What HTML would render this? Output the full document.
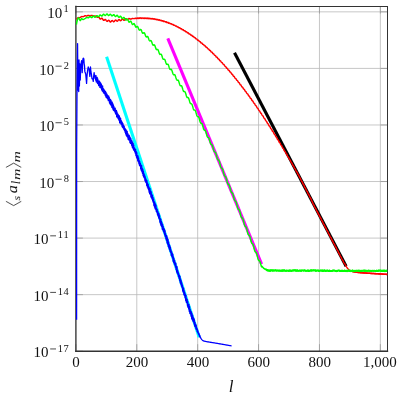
<!DOCTYPE html>
<html><head><meta charset="utf-8"><title>plot</title>
<style>html,body{margin:0;padding:0;background:#fff}svg{display:block}</style></head>
<body>
<svg width="398" height="398" viewBox="0 0 398 398">
<rect width="398" height="398" fill="#fff"/>
<g stroke="#b9b9b9" stroke-width="0.8" fill="none">
<line x1="136.79" y1="6.50" x2="136.79" y2="351.20"/>
<line x1="197.68" y1="6.50" x2="197.68" y2="351.20"/>
<line x1="258.57" y1="6.50" x2="258.57" y2="351.20"/>
<line x1="319.46" y1="6.50" x2="319.46" y2="351.20"/>
<line x1="380.35" y1="6.50" x2="380.35" y2="351.20"/>
<line x1="75.90" y1="11.85" x2="387.50" y2="11.85"/>
<line x1="75.90" y1="68.41" x2="387.50" y2="68.41"/>
<line x1="75.90" y1="124.97" x2="387.50" y2="124.97"/>
<line x1="75.90" y1="181.53" x2="387.50" y2="181.53"/>
<line x1="75.90" y1="238.09" x2="387.50" y2="238.09"/>
<line x1="75.90" y1="294.65" x2="387.50" y2="294.65"/>
</g>
<g stroke="#8c8c8c" stroke-width="0.65" fill="none">
<line x1="75.90" y1="351.20" x2="75.90" y2="344.20"/>
<line x1="75.90" y1="6.50" x2="75.90" y2="13.50"/>
<line x1="136.79" y1="351.20" x2="136.79" y2="344.20"/>
<line x1="136.79" y1="6.50" x2="136.79" y2="13.50"/>
<line x1="197.68" y1="351.20" x2="197.68" y2="344.20"/>
<line x1="197.68" y1="6.50" x2="197.68" y2="13.50"/>
<line x1="258.57" y1="351.20" x2="258.57" y2="344.20"/>
<line x1="258.57" y1="6.50" x2="258.57" y2="13.50"/>
<line x1="319.46" y1="351.20" x2="319.46" y2="344.20"/>
<line x1="319.46" y1="6.50" x2="319.46" y2="13.50"/>
<line x1="380.35" y1="351.20" x2="380.35" y2="344.20"/>
<line x1="380.35" y1="6.50" x2="380.35" y2="13.50"/>
<line x1="75.90" y1="11.85" x2="82.90" y2="11.85"/>
<line x1="387.50" y1="11.85" x2="380.50" y2="11.85"/>
<line x1="75.90" y1="68.41" x2="82.90" y2="68.41"/>
<line x1="387.50" y1="68.41" x2="380.50" y2="68.41"/>
<line x1="75.90" y1="124.97" x2="82.90" y2="124.97"/>
<line x1="387.50" y1="124.97" x2="380.50" y2="124.97"/>
<line x1="75.90" y1="181.53" x2="82.90" y2="181.53"/>
<line x1="387.50" y1="181.53" x2="380.50" y2="181.53"/>
<line x1="75.90" y1="238.09" x2="82.90" y2="238.09"/>
<line x1="387.50" y1="238.09" x2="380.50" y2="238.09"/>
<line x1="75.90" y1="294.65" x2="82.90" y2="294.65"/>
<line x1="387.50" y1="294.65" x2="380.50" y2="294.65"/>
<line x1="75.90" y1="351.20" x2="82.90" y2="351.20"/>
<line x1="387.50" y1="351.20" x2="380.50" y2="351.20"/>
</g>
<g stroke="#333" fill="none" stroke-linecap="square">
<line x1="75.90" y1="6.50" x2="387.50" y2="6.50" stroke-width="1"/>
<line x1="387.50" y1="6.50" x2="387.50" y2="351.20" stroke-width="1"/>
<line x1="75.90" y1="6.50" x2="75.90" y2="351.20" stroke-width="1.35"/>
<line x1="75.90" y1="351.20" x2="387.50" y2="351.20" stroke-width="1.35"/>
</g>
<clipPath id="c"><rect x="75.90" y="6.50" width="311.60" height="344.70"/></clipPath>
<g clip-path="url(#c)" fill="none" stroke-linejoin="round">
<line x1="106.60" y1="56.70" x2="199.20" y2="337.20" stroke="#00ffff" stroke-width="3.1"/>
<line x1="167.80" y1="38.40" x2="261.60" y2="264.20" stroke="#ff00ff" stroke-width="3.1"/>
<line x1="234.50" y1="52.70" x2="346.10" y2="266.30" stroke="#000" stroke-width="3.1"/>
<path d="M76.30,19.24 L76.70,18.98 L77.10,18.59 L77.50,18.16 L77.90,17.82 L78.30,17.64 L78.70,17.59 L79.10,17.63 L79.50,17.65 L79.90,17.57 L80.30,17.37 L80.70,17.09 L81.10,16.80 L81.50,16.61 L81.90,16.54 L82.30,16.59 L82.70,16.66 L83.10,16.66 L83.50,16.54 L83.90,16.31 L84.30,16.05 L84.70,15.83 L85.10,15.74 L85.50,15.78 L85.90,15.90 L86.30,16.00 L86.70,16.00 L87.10,15.88 L87.50,15.67 L87.90,15.47 L88.30,15.37 L88.70,15.41 L89.10,15.55 L89.50,15.73 L89.90,15.83 L90.30,15.82 L90.70,15.69 L91.10,15.51 L91.50,15.39 L91.90,15.40 L92.30,15.54 L92.70,15.75 L93.10,15.95 L93.50,16.06 L93.90,16.05 L94.30,15.97 L94.70,15.91 L95.10,15.96 L95.50,16.16 L95.90,16.47 L96.30,16.71 L96.70,16.98 L97.10,17.21 L97.50,17.30 L97.90,17.23 L98.30,17.13 L98.70,17.19 L99.10,17.53 L99.50,18.12 L99.90,18.75 L100.30,19.08 L100.70,18.99 L101.10,18.64 L101.50,18.28 L101.90,18.20 L102.30,18.50 L102.70,19.12 L103.10,19.81 L103.50,20.29 L103.90,20.39 L104.30,20.13 L104.70,19.73 L105.10,19.46 L105.50,19.54 L105.90,19.98 L106.30,20.62 L106.70,21.18 L107.10,21.43 L107.50,21.29 L107.90,20.87 L108.30,20.45 L108.70,20.29 L109.10,20.51 L109.50,21.03 L109.90,21.61 L110.30,21.98 L110.70,21.96 L111.10,21.57 L111.50,21.03 L111.90,20.61 L112.30,20.53 L112.70,20.82 L113.10,21.30 L113.50,21.70 L113.90,21.78 L114.30,21.48 L114.70,20.90 L115.10,20.33 L115.50,20.03 L115.90,20.12 L116.30,20.52 L116.70,21.00 L117.10,21.26 L117.50,21.15 L117.90,20.68 L118.30,20.08 L118.70,19.62 L119.10,19.50 L119.50,19.77 L119.90,20.25 L120.30,20.66 L120.70,20.76 L121.10,20.46 L121.50,19.90 L121.90,19.35 L122.30,19.05 L122.70,19.15 L123.10,19.55 L123.50,20.03 L123.90,20.31 L124.30,20.21 L124.70,19.75 L125.10,19.16 L125.50,18.74 L125.90,18.68 L126.30,18.94 L126.70,19.35 L127.10,19.66 L127.50,19.71 L127.90,19.46 L128.30,19.06 L128.70,18.70 L129.10,18.54 L129.50,18.61 L129.90,18.84 L130.30,19.06 L130.70,19.15 L131.10,19.07 L131.50,18.86 L131.90,18.65 L132.30,18.51 L132.70,18.49 L133.10,18.54 L133.50,18.60 L133.90,18.61 L134.30,18.56 L134.70,18.49 L135.10,18.49 L135.50,18.11 L135.90,18.26 L136.30,18.60 L136.70,18.46 L137.10,18.03 L137.50,18.04 L137.90,18.42 L138.30,18.43 L138.70,18.01 L139.10,17.88 L139.50,18.23 L139.90,18.40 L140.30,18.05 L140.70,17.82 L141.10,18.12 L141.50,18.43 L141.90,18.19 L142.30,17.86 L142.70,18.05 L143.10,18.44 L143.50,18.35 L143.90,17.97 L144.30,18.02 L144.70,18.44 L145.10,18.50 L145.50,18.12 L145.90,18.03 L146.30,18.43 L146.70,18.63 L147.10,18.31 L147.50,18.08 L147.90,18.40 L148.30,18.72 L148.70,18.51 L149.10,18.19 L149.50,18.40 L149.90,18.81 L150.30,18.74 L150.70,18.38 L151.10,18.46 L151.50,18.90 L151.90,18.99 L152.30,18.64 L152.70,18.58 L153.10,19.01 L153.50,19.24 L153.90,18.96 L154.30,18.78 L154.70,19.14 L155.10,19.51 L155.50,19.33 L155.90,19.06 L156.30,19.31 L156.70,19.77 L157.10,19.73 L157.50,19.42 L157.90,19.54 L158.30,20.03 L158.70,20.16 L159.10,19.85 L159.50,19.83 L159.90,20.31 L160.30,20.59 L160.70,20.34 L161.10,20.20 L161.50,20.61 L161.90,21.02 L162.30,20.88 L162.70,20.65 L163.10,20.95 L163.50,21.45 L163.90,21.46 L164.30,21.18 L164.70,21.34 L165.10,21.88 L165.50,22.05 L165.90,21.78 L166.30,21.81 L166.70,22.32 L167.10,22.64 L167.50,22.44 L167.90,22.34 L168.30,22.79 L168.70,23.24 L169.10,23.15 L169.50,22.96 L169.90,23.29 L170.30,23.83 L170.70,23.88 L171.10,23.65 L171.50,23.85 L171.90,24.43 L172.30,24.63 L172.70,24.41 L173.10,24.48 L173.50,25.03 L173.90,25.39 L174.30,25.23 L174.70,25.17 L175.10,25.66 L175.50,26.15 L175.90,26.10 L176.30,25.95 L176.70,26.33 L177.10,26.90 L177.50,26.99 L177.90,26.80 L178.30,27.04 L178.70,27.66 L179.10,27.90 L179.50,27.72 L179.90,27.82 L180.30,28.42 L180.70,28.82 L181.10,28.70 L181.50,28.68 L181.90,29.20 L182.30,29.73 L182.70,29.72 L183.10,29.61 L183.50,30.02 L183.90,30.64 L184.30,30.77 L184.70,30.61 L185.10,30.90 L185.50,31.55 L185.90,31.83 L186.30,31.69 L186.70,31.83 L187.10,32.46 L187.50,32.90 L187.90,32.82 L188.30,32.84 L188.70,33.40 L189.10,33.96 L189.50,33.99 L189.90,33.92 L190.30,34.37 L190.70,35.02 L191.10,35.19 L191.50,35.07 L191.90,35.39 L192.30,36.08 L192.70,36.40 L193.10,36.29 L193.50,36.47 L193.90,37.14 L194.30,37.62 L194.70,37.57 L195.10,37.63 L195.50,38.23 L195.90,38.83 L196.30,38.89 L196.70,38.86 L197.10,39.35 L197.50,40.03 L197.90,40.24 L198.30,40.16 L198.70,40.51 L199.10,41.24 L199.50,41.60 L199.90,41.52 L200.30,41.74 L200.70,42.44 L201.10,42.95 L201.50,42.94 L201.90,43.03 L202.30,43.67 L202.70,44.31 L203.10,44.40 L203.50,44.40 L203.90,44.93 L204.30,45.65 L204.70,45.89 L205.10,45.85 L205.50,46.24 L205.90,47.00 L206.30,47.39 L206.70,47.35 L207.10,47.60 L207.50,48.34 L207.90,48.89 L208.30,48.91 L208.70,49.04 L209.10,49.71 L209.50,50.38 L209.90,50.51 L210.30,50.54 L210.70,51.10 L211.10,51.86 L211.50,52.13 L211.90,52.12 L212.30,52.54 L212.70,53.34 L213.10,53.77 L213.50,53.76 L213.90,54.05 L214.30,54.82 L214.70,55.40 L215.10,55.45 L215.50,55.61 L215.90,56.32 L216.30,57.02 L216.70,57.19 L217.10,57.25 L217.50,57.84 L217.90,58.64 L218.30,58.94 L218.70,58.96 L219.10,59.42 L219.50,60.24 L219.90,60.70 L220.30,60.73 L220.70,61.05 L221.10,61.85 L221.50,62.47 L221.90,62.55 L222.30,62.75 L222.70,63.48 L223.10,64.22 L223.50,64.41 L223.90,64.51 L224.30,65.14 L224.70,65.96 L225.10,66.30 L225.50,66.35 L225.90,66.84 L226.30,67.69 L226.70,68.19 L227.10,68.25 L227.50,68.59 L227.90,69.43 L228.30,70.07 L228.70,70.19 L229.10,70.41 L229.50,71.18 L229.90,71.95 L230.30,72.18 L230.70,72.31 L231.10,72.96 L231.50,73.81 L231.90,74.18 L232.30,74.26 L232.70,74.78 L233.10,75.67 L233.50,76.19 L233.90,76.28 L234.30,76.66 L234.70,77.53 L235.10,78.20 L235.50,78.35 L235.90,78.60 L236.30,79.40 L236.70,80.19 L237.10,80.45 L237.50,80.61 L237.90,81.29 L238.30,82.18 L238.70,82.57 L239.10,82.68 L239.50,83.23 L239.90,84.15 L240.30,84.70 L240.70,84.82 L241.10,85.23 L241.50,86.12 L241.90,86.82 L242.30,87.00 L242.70,87.28 L243.10,88.11 L243.50,88.93 L243.90,89.22 L244.30,89.41 L244.70,90.12 L245.10,91.03 L245.50,91.45 L245.90,91.59 L246.30,92.17 L246.70,93.12 L247.10,93.69 L247.50,93.84 L247.90,94.28 L248.30,95.20 L248.70,95.93 L249.10,96.13 L249.50,96.44 L249.90,97.29 L250.30,98.15 L250.70,98.46 L251.10,98.68 L251.50,99.42 L251.90,100.35 L252.30,100.81 L252.70,100.97 L253.10,101.58 L253.50,102.55 L253.90,103.15 L254.30,103.33 L254.70,103.79 L255.10,104.74 L255.50,105.49 L255.90,105.73 L256.30,106.06 L256.70,106.94 L257.10,107.82 L257.50,108.16 L257.90,108.40 L258.30,109.16 L258.70,110.13 L259.10,110.61 L259.50,110.80 L259.90,111.43 L260.30,112.42 L260.70,113.06 L261.10,113.26 L261.50,113.74 L261.90,114.72 L262.30,115.50 L262.70,115.76 L263.10,116.12 L263.50,117.02 L263.90,117.93 L264.30,118.29 L264.70,118.55 L265.10,119.35 L265.50,120.33 L265.90,120.84 L266.30,121.05 L266.70,121.71 L267.10,122.73 L267.50,123.39 L267.90,123.61 L268.30,124.12 L268.70,125.12 L269.10,125.93 L269.50,126.21 L269.90,126.59 L270.30,127.52 L270.70,128.45 L271.10,128.84 L271.50,129.13 L271.90,129.94 L272.30,130.95 L272.70,131.48 L273.10,131.72 L273.50,132.40 L273.90,133.44 L274.30,134.12 L274.70,134.37 L275.10,134.90 L275.50,135.93 L275.90,136.75 L276.30,137.06 L276.70,137.47 L277.10,138.42 L277.50,139.37 L277.90,139.78 L278.30,140.09 L278.70,140.93 L279.10,141.96 L279.50,142.51 L279.90,142.77 L280.30,143.47 L280.70,144.54 L281.10,145.24 L281.50,145.51 L281.90,146.07 L282.30,147.11 L282.70,147.96 L283.10,148.29 L283.50,148.72 L283.90,149.69 L284.30,150.66 L284.70,151.10 L285.10,151.43 L285.50,152.29 L285.90,153.35 L286.30,153.92 L286.70,154.20 L287.10,154.92 L287.50,156.01 L287.90,156.73 L288.30,157.02 L288.70,157.60 L289.10,158.66 L289.50,159.52 L289.90,159.86 L290.30,160.30 L290.70,161.29 L291.10,162.27 L291.50,162.72 L291.90,163.07 L292.30,163.94 L292.70,165.01 L293.10,165.60 L293.50,165.90 L293.90,166.64 L294.30,167.75 L294.70,168.49 L295.10,168.80 L295.50,169.41 L295.90,170.50 L296.30,171.40 L296.70,171.78 L297.10,172.26 L297.50,173.29 L297.90,174.32 L298.30,174.82 L298.70,175.21 L299.10,176.13 L299.50,177.26 L299.90,177.89 L300.30,178.25 L300.70,179.04 L301.10,180.20 L301.50,181.00 L301.90,181.36 L302.30,182.01 L302.70,183.15 L303.10,184.10 L303.50,184.53 L303.90,185.05 L304.30,186.12 L304.70,187.20 L305.10,187.73 L305.50,188.16 L305.90,189.12 L306.30,190.27 L306.70,190.94 L307.10,191.32 L307.50,192.13 L307.90,193.31 L308.30,194.13 L308.70,194.51 L309.10,195.17 L309.50,196.32 L309.90,197.28 L310.30,197.71 L310.70,198.24 L311.10,199.31 L311.50,200.37 L311.90,200.90 L312.30,201.89 L312.70,202.84 L313.10,203.98 L313.50,204.64 L313.90,205.00 L314.30,205.81 L314.70,206.98 L315.10,207.78 L315.50,208.15 L315.90,208.80 L316.30,209.95 L316.70,210.89 L317.10,211.31 L317.50,211.84 L317.90,212.90 L318.30,213.96 L318.70,214.49 L319.10,214.91 L319.50,215.85 L319.90,217.00 L320.30,217.65 L320.70,218.02 L321.10,218.82 L321.50,219.99 L321.90,220.80 L322.30,221.16 L322.70,221.82 L323.10,222.96 L323.50,223.91 L323.90,224.33 L324.30,224.85 L324.70,225.92 L325.10,226.98 L325.50,227.50 L325.90,227.92 L326.30,228.87 L326.70,230.01 L327.10,230.67 L327.50,231.03 L327.90,231.84 L328.30,233.01 L328.70,233.81 L329.10,234.18 L329.50,234.83 L329.90,235.98 L330.30,236.92 L330.70,237.34 L331.10,237.87 L331.50,238.93 L331.90,239.99 L332.30,240.52 L332.70,240.94 L333.10,241.88 L333.50,243.03 L333.90,243.68 L334.30,244.05 L334.70,244.85 L335.10,246.02 L335.50,246.83 L335.90,247.19 L336.30,247.85 L336.70,248.99 L337.10,249.94 L337.50,250.36 L337.90,250.88 L338.30,251.95 L338.70,253.01 L339.10,253.53 L339.50,253.95 L339.90,254.90 L340.30,256.04 L340.70,256.70 L341.10,257.06 L341.50,257.87 L341.90,259.04 L342.30,259.84 L342.70,260.21 L343.10,260.86 L343.50,262.01 L343.90,262.95 L344.30,263.37 L344.70,263.55 L345.10,264.55 L345.50,265.23 L345.90,265.88 L346.30,266.51 L346.70,267.11 L347.10,267.68 L347.50,268.20 L347.90,268.67 L348.30,269.09 L348.70,269.46 L349.10,269.78 L349.50,270.07 L349.90,270.34 L350.30,270.58 L350.70,270.79 L351.10,270.97 L351.50,271.14 L351.90,271.28 L352.30,271.41 L352.70,271.52 L353.10,271.62 L353.50,271.72 L353.90,271.80 L354.30,271.88 L354.70,271.96 L355.10,272.02 L355.50,272.08 L355.90,272.14 L356.30,272.19 L356.70,272.25 L357.10,272.29 L357.50,272.34 L357.90,272.39 L358.30,272.43 L358.70,272.48 L359.10,272.52 L359.50,272.56 L359.90,272.60 L360.30,272.64 L360.70,272.67 L361.10,272.71 L361.50,272.74 L361.90,272.78 L362.30,272.81 L362.70,272.84 L363.10,272.87 L363.50,272.90 L363.90,272.92 L364.30,272.95 L364.70,272.98 L365.10,273.01 L365.50,273.03 L365.90,273.06 L366.30,273.09 L366.70,273.11 L367.10,273.14 L367.50,273.17 L367.90,273.19 L368.30,273.22 L368.70,273.24 L369.10,273.27 L369.50,273.30 L369.90,273.32 L370.30,273.35 L370.70,273.37 L371.10,273.40 L371.50,273.42 L371.90,273.45 L372.30,273.47 L372.70,273.50 L373.10,273.52 L373.50,273.55 L373.90,273.57 L374.30,273.60 L374.70,273.62 L375.10,273.65 L375.50,273.67 L375.90,273.69 L376.30,273.72 L376.70,273.74 L377.10,273.77 L377.50,273.79 L377.90,273.82 L378.30,273.84 L378.70,273.86 L379.10,273.89 L379.50,273.91 L379.90,273.94 L380.30,273.96 L380.70,273.98 L381.10,274.01 L381.50,274.03 L381.90,274.06 L382.30,274.08 L382.70,274.11 L383.10,274.13 L383.50,274.15 L383.90,274.18 L384.30,274.20 L384.70,274.23 L385.10,274.25 L385.50,274.28 L385.90,274.30 L386.30,274.33 L386.70,274.35 L387.10,274.38 L387.50,274.40" stroke="#ff0000" stroke-width="1.45"/>
<path d="M350.30,270.58 L350.70,270.79 L351.10,270.97 L351.50,271.14 L351.90,271.28 L352.30,271.41 L352.70,271.52 L353.10,271.62 L353.50,271.72 L353.90,271.80 L354.30,271.88 L354.70,271.96 L355.10,272.02 L355.50,272.08 L355.90,272.14 L356.30,272.19 L356.70,272.25 L357.10,272.29 L357.50,272.34 L357.90,272.39 L358.30,272.43 L358.70,272.48 L359.10,272.52 L359.50,272.56 L359.90,272.60 L360.30,272.64 L360.70,272.67 L361.10,272.71 L361.50,272.74 L361.90,272.78 L362.30,272.81 L362.70,272.84 L363.10,272.87 L363.50,272.90 L363.90,272.92 L364.30,272.95 L364.70,272.98 L365.10,273.01 L365.50,273.03 L365.90,273.06 L366.30,273.09 L366.70,273.11 L367.10,273.14 L367.50,273.17 L367.90,273.19 L368.30,273.22 L368.70,273.24 L369.10,273.27 L369.50,273.30 L369.90,273.32 L370.30,273.35 L370.70,273.37 L371.10,273.40 L371.50,273.42 L371.90,273.45 L372.30,273.47 L372.70,273.50 L373.10,273.52 L373.50,273.55 L373.90,273.57 L374.30,273.60 L374.70,273.62 L375.10,273.65 L375.50,273.67 L375.90,273.69 L376.30,273.72 L376.70,273.74 L377.10,273.77 L377.50,273.79 L377.90,273.82 L378.30,273.84 L378.70,273.86 L379.10,273.89 L379.50,273.91 L379.90,273.94 L380.30,273.96 L380.70,273.98 L381.10,274.01 L381.50,274.03 L381.90,274.06 L382.30,274.08 L382.70,274.11 L383.10,274.13 L383.50,274.15 L383.90,274.18 L384.30,274.20 L384.70,274.23 L385.10,274.25 L385.50,274.28 L385.90,274.30 L386.30,274.33 L386.70,274.35 L387.10,274.38 L387.50,274.40" stroke="#ff0000" stroke-width="1.6"/>
<path d="M76.40,24.60 L76.80,22.36 L77.20,20.50 L77.60,19.27 L78.00,18.30 L78.40,17.82 L78.80,18.03 L79.20,18.80 L79.60,19.74 L80.00,20.45 L80.40,20.52 L80.80,19.81 L81.20,18.95 L81.60,18.58 L82.00,18.79 L82.40,19.23 L82.80,19.56 L83.20,19.56 L83.60,19.42 L84.00,19.21 L84.40,18.98 L84.80,18.76 L85.20,18.51 L85.60,18.21 L86.00,17.90 L86.40,17.64 L86.80,17.50 L87.20,17.51 L87.60,17.63 L88.00,17.75 L88.40,17.75 L88.80,17.53 L89.20,17.14 L89.60,16.76 L90.00,16.56 L90.40,16.67 L90.80,17.02 L91.20,17.44 L91.60,17.65 L92.00,17.50 L92.40,17.00 L92.80,16.43 L93.20,16.07 L93.60,16.08 L94.00,16.45 L94.40,16.95 L94.80,17.32 L95.20,17.33 L95.60,16.96 L96.00,16.38 L96.40,15.85 L96.80,15.62 L97.20,15.78 L97.60,16.20 L98.00,16.62 L98.40,16.78 L98.80,16.54 L99.20,16.00 L99.60,15.38 L100.00,14.97 L100.40,14.94 L100.80,15.27 L101.20,15.73 L101.60,16.06 L102.00,16.03 L102.40,15.63 L102.80,15.02 L103.20,14.48 L103.60,14.26 L104.00,14.44 L104.40,14.88 L104.80,15.33 L105.20,15.52 L105.60,15.34 L106.00,14.85 L106.40,14.30 L106.80,13.97 L107.20,14.02 L107.60,14.44 L108.00,15.01 L108.40,15.44 L108.80,15.53 L109.20,15.24 L109.60,14.75 L110.00,14.33 L110.40,14.22 L110.80,14.51 L111.20,15.06 L111.60,15.61 L112.00,15.90 L112.40,15.81 L112.80,15.41 L113.20,14.94 L113.60,14.69 L114.00,14.81 L114.40,15.30 L114.80,15.92 L115.20,16.42 L115.60,16.58 L116.00,16.19 L116.40,15.73 L116.80,15.35 L117.20,15.29 L117.60,15.64 L118.00,16.29 L118.40,16.95 L118.80,17.34 L119.20,17.30 L119.60,16.92 L120.00,16.44 L120.40,16.19 L120.80,16.38 L121.20,16.98 L121.60,17.76 L122.00,18.38 L122.40,18.61 L122.80,18.38 L123.20,17.90 L123.60,17.50 L124.00,17.48 L124.40,17.95 L124.80,18.77 L125.20,19.60 L125.60,20.11 L126.00,20.12 L126.40,19.73 L126.80,19.23 L127.20,19.01 L127.60,19.28 L128.00,20.03 L128.40,21.02 L128.80,21.82 L129.20,22.15 L129.60,21.97 L130.00,21.50 L130.40,21.12 L130.80,21.19 L131.20,21.81 L131.60,22.80 L132.00,23.79 L132.40,24.42 L132.80,24.51 L133.20,24.17 L133.60,23.73 L134.00,23.58 L134.40,23.96 L134.80,24.84 L135.20,25.92 L135.60,26.80 L136.00,27.20 L136.40,27.08 L136.80,26.67 L137.20,26.36 L137.60,26.50 L138.00,27.18 L138.40,28.24 L138.80,29.31 L139.20,30.00 L139.60,30.16 L140.00,29.88 L140.40,29.51 L140.80,29.42 L141.20,29.87 L141.60,30.81 L142.00,31.96 L142.40,32.91 L142.80,33.37 L143.20,33.31 L143.60,32.96 L144.00,32.72 L144.40,32.92 L144.80,33.67 L145.20,34.80 L145.60,35.95 L146.00,36.74 L146.40,36.98 L146.80,36.79 L147.20,36.50 L147.60,36.50 L148.00,37.04 L148.40,38.07 L148.80,39.30 L149.20,40.33 L149.60,40.88 L150.00,40.91 L150.40,40.65 L150.80,40.50 L151.20,40.78 L151.60,41.62 L152.00,42.83 L152.40,44.04 L152.80,44.89 L153.20,45.19 L153.60,45.06 L154.00,44.83 L154.40,44.90 L154.80,45.49 L155.20,46.58 L155.60,47.87 L156.00,48.97 L156.40,49.58 L156.80,49.66 L157.20,49.46 L157.60,49.37 L158.00,49.71 L158.40,50.60 L158.80,51.87 L159.20,53.14 L159.60,54.04 L160.00,54.40 L160.40,54.33 L160.80,54.16 L161.20,54.28 L161.60,54.93 L162.00,56.07 L162.40,57.42 L162.80,58.57 L163.20,59.23 L163.60,59.37 L164.00,59.22 L164.40,59.18 L164.80,59.58 L165.20,60.51 L165.60,61.79 L166.00,63.08 L166.40,64.00 L166.80,64.37 L167.20,64.31 L167.60,64.16 L168.00,64.29 L168.40,64.96 L168.80,66.12 L169.20,67.48 L169.60,68.64 L170.00,69.31 L170.40,69.47 L170.80,69.33 L171.20,69.30 L171.60,69.71 L172.00,70.66 L172.40,71.99 L172.80,73.32 L173.20,74.28 L173.60,74.71 L174.00,74.69 L174.40,74.58 L174.80,74.76 L175.20,75.47 L175.60,76.67 L176.00,78.07 L176.40,79.27 L176.80,79.99 L177.20,80.19 L177.60,80.09 L178.00,80.10 L178.40,80.56 L178.80,81.55 L179.20,82.92 L179.60,84.30 L180.00,85.30 L180.40,85.77 L180.80,85.79 L181.20,85.72 L181.60,85.94 L182.00,86.69 L182.40,87.94 L182.80,89.38 L183.20,90.63 L183.60,91.39 L184.00,91.62 L184.40,91.57 L184.80,91.63 L185.20,92.12 L185.60,93.16 L186.00,94.57 L186.40,95.99 L186.80,97.03 L187.20,97.54 L187.60,97.61 L188.00,97.58 L188.40,97.84 L188.80,98.63 L189.20,99.92 L189.60,101.40 L190.00,102.69 L190.40,103.49 L190.80,103.77 L191.20,103.76 L191.60,103.85 L192.00,104.39 L192.40,105.47 L192.80,106.92 L193.20,108.38 L193.60,109.47 L194.00,110.01 L194.40,110.12 L194.80,110.14 L195.20,110.44 L195.60,111.27 L196.00,112.60 L196.40,114.13 L196.80,115.46 L197.20,116.30 L197.60,116.62 L198.00,116.66 L198.40,116.79 L198.80,117.37 L199.20,118.49 L199.60,119.99 L200.00,121.49 L200.40,122.62 L200.80,123.21 L201.20,123.36 L201.60,123.42 L202.00,123.76 L202.40,124.64 L202.80,126.01 L203.20,127.58 L203.60,128.96 L204.00,129.84 L204.40,130.21 L204.80,130.28 L205.20,130.46 L205.60,131.08 L206.00,132.25 L206.40,133.79 L206.80,135.34 L207.20,136.51 L207.60,137.15 L208.00,137.35 L208.40,137.44 L208.80,137.83 L209.20,138.74 L209.60,140.14 L210.00,141.74 L210.40,143.15 L210.80,144.07 L211.20,144.46 L211.60,144.57 L212.00,144.79 L212.40,145.45 L212.80,146.65 L213.20,148.24 L213.60,149.83 L214.00,151.05 L214.40,151.74 L214.80,152.00 L215.20,152.16 L215.60,152.61 L216.00,153.60 L216.40,155.09 L216.80,156.77 L217.20,158.27 L217.60,159.28 L218.00,159.77 L218.40,159.97 L218.80,160.28 L219.20,161.02 L219.60,162.32 L220.00,163.99 L220.40,165.66 L220.80,166.97 L221.20,167.73 L221.60,168.05 L222.00,168.27 L222.40,168.79 L222.80,169.83 L223.20,171.36 L223.60,173.08 L224.00,174.61 L224.40,175.65 L224.80,176.16 L225.20,176.38 L225.60,176.70 L226.00,177.46 L226.40,178.76 L226.80,180.43 L227.20,182.10 L227.60,183.40 L228.00,184.15 L228.40,184.47 L228.80,184.69 L229.20,185.20 L229.60,186.23 L230.00,187.75 L230.40,189.47 L230.80,191.00 L231.20,192.03 L231.60,192.54 L232.00,192.75 L232.40,193.07 L232.80,193.83 L233.20,195.13 L233.60,196.80 L234.00,198.47 L234.40,199.77 L234.80,200.52 L235.20,200.86 L235.60,201.12 L236.00,201.67 L236.40,202.75 L236.80,204.32 L237.20,206.08 L237.60,207.65 L238.00,208.72 L238.40,209.27 L238.80,209.53 L239.20,209.89 L239.60,210.69 L240.00,212.04 L240.40,213.75 L240.80,215.46 L241.20,216.81 L241.60,217.61 L242.00,217.97 L242.40,218.23 L242.80,218.78 L243.20,219.85 L243.60,221.42 L244.00,223.19 L244.40,224.75 L244.80,225.83 L245.20,226.38 L245.60,226.64 L246.00,227.00 L246.40,227.80 L246.80,229.14 L247.20,230.86 L247.60,232.57 L248.00,233.92 L248.40,234.71 L248.80,235.08 L249.20,235.34 L249.60,235.88 L250.00,236.96 L250.40,238.53 L250.80,240.29 L251.20,241.86 L251.60,242.94 L252.00,243.48 L252.40,243.75 L252.80,244.11 L253.20,244.91 L253.60,246.25 L254.00,247.96 L254.40,249.68 L254.80,251.02 L255.20,251.82 L255.60,252.18 L256.00,252.44 L256.40,252.99 L256.80,254.07 L257.20,255.61 L257.60,257.36 L258.00,258.91 L258.40,259.98 L258.80,260.51 L259.20,260.74 L259.60,261.04 L260.00,261.76 L260.40,262.98 L260.80,264.50 L261.20,265.92 L261.60,266.88 L262.00,266.26 L262.40,266.65 L262.80,267.55 L263.20,267.54 L263.60,268.31 L264.00,268.53 L264.40,268.59 L264.80,269.22 L265.20,269.08 L265.60,269.61 L266.00,269.49 L266.40,269.64 L266.80,270.02 L267.20,270.44 L267.60,269.96 L268.00,270.11 L268.40,270.49 L268.80,270.79 L269.20,270.53 L269.60,270.41 L270.00,270.88 L270.40,270.14 L270.80,270.80 L271.20,270.35 L271.60,270.24 L272.00,270.23 L272.40,270.38 L272.80,270.80 L273.20,270.29 L273.60,270.62 L274.00,270.67 L274.40,270.46 L274.80,270.60 L275.20,270.22 L275.60,270.22 L276.00,270.34 L276.40,270.72 L276.80,270.52 L277.20,270.43 L277.60,270.65 L278.00,270.55 L278.40,270.43 L278.80,270.83 L279.20,270.75 L279.60,270.39 L280.00,270.66 L280.40,270.62 L280.80,270.90 L281.20,270.78 L281.60,270.43 L282.00,270.98 L282.40,270.30 L282.80,270.54 L283.20,270.81 L283.60,270.32 L284.00,270.59 L284.40,270.23 L284.80,270.74 L285.20,270.81 L285.60,270.66 L286.00,270.90 L286.40,270.45 L286.80,270.76 L287.20,270.67 L287.60,270.66 L288.00,270.56 L288.40,270.87 L288.80,270.95 L289.20,270.58 L289.60,270.73 L290.00,270.24 L290.40,270.76 L290.80,270.71 L291.20,270.99 L291.60,270.85 L292.00,270.42 L292.40,270.50 L292.80,270.73 L293.20,270.21 L293.60,270.56 L294.00,270.32 L294.40,270.28 L294.80,270.24 L295.20,270.80 L295.60,270.29 L296.00,270.39 L296.40,270.50 L296.80,270.89 L297.20,270.26 L297.60,270.55 L298.00,270.63 L298.40,270.90 L298.80,270.85 L299.20,270.89 L299.60,270.42 L300.00,270.53 L300.40,270.49 L300.80,270.91 L301.20,270.97 L301.60,270.33 L302.00,270.35 L302.40,270.40 L302.80,270.40 L303.20,270.60 L303.60,270.69 L304.00,270.43 L304.40,270.22 L304.80,270.56 L305.20,270.52 L305.60,270.68 L306.00,270.99 L306.40,270.78 L306.80,270.65 L307.20,270.73 L307.60,270.78 L308.00,270.28 L308.40,270.96 L308.80,270.87 L309.20,270.95 L309.60,270.89 L310.00,270.56 L310.40,270.57 L310.80,270.34 L311.20,270.77 L311.60,270.31 L312.00,270.32 L312.40,270.43 L312.80,270.40 L313.20,270.54 L313.60,270.31 L314.00,270.27 L314.40,270.40 L314.80,270.36 L315.20,270.57 L315.60,270.30 L316.00,270.99 L316.40,270.78 L316.80,270.41 L317.20,270.50 L317.60,270.57 L318.00,270.59 L318.40,270.40 L318.80,270.98 L319.20,271.10 L319.60,270.68 L320.00,270.70 L320.40,270.38 L320.80,270.40 L321.20,270.59 L321.60,270.53 L322.00,270.98 L322.40,270.45 L322.80,270.34 L323.20,271.09 L323.60,270.75 L324.00,270.45 L324.40,270.77 L324.80,270.36 L325.20,270.76 L325.60,271.12 L326.00,271.03 L326.40,270.90 L326.80,270.56 L327.20,270.64 L327.60,270.49 L328.00,270.97 L328.40,270.78 L328.80,270.98 L329.20,270.62 L329.60,270.54 L330.00,271.01 L330.40,271.15 L330.80,271.05 L331.20,271.01 L331.60,271.03 L332.00,270.96 L332.40,270.56 L332.80,270.79 L333.20,270.66 L333.60,270.40 L334.00,270.40 L334.40,270.61 L334.80,270.59 L335.20,270.94 L335.60,271.15 L336.00,270.75 L336.40,271.14 L336.80,271.18 L337.20,271.16 L337.60,270.69 L338.00,270.57 L338.40,270.58 L338.80,270.55 L339.20,270.56 L339.60,270.90 L340.00,271.12 L340.40,271.07 L340.80,270.79 L341.20,270.92 L341.60,271.04 L342.00,270.47 L342.40,270.93 L342.80,271.13 L343.20,271.03 L343.60,271.01 L344.00,270.79 L344.40,270.55 L344.80,271.04 L345.20,270.68 L345.60,271.05 L346.00,271.19 L346.40,270.73 L346.80,270.73 L347.20,271.17 L347.60,270.99 L348.00,270.55 L348.40,270.51 L348.80,270.53 L349.20,271.14 L349.60,271.06 L350.00,270.53 L350.40,271.08 L350.80,271.20 L351.20,270.94 L351.60,270.70 L352.00,270.85 L352.40,270.52 L352.80,270.43 L353.20,271.19 L353.60,270.94 L354.00,270.84 L354.40,271.16 L354.80,270.76 L355.20,271.11 L355.60,271.08 L356.00,270.58 L356.40,270.62 L356.80,270.65 L357.20,270.61 L357.60,270.89 L358.00,270.62 L358.40,270.75 L358.80,270.52 L359.20,271.14 L359.60,270.70 L360.00,270.78 L360.40,270.88 L360.80,271.14 L361.20,270.75 L361.60,271.15 L362.00,270.82 L362.40,270.84 L362.80,270.83 L363.20,270.43 L363.60,270.77 L364.00,270.56 L364.40,270.42 L364.80,271.05 L365.20,270.55 L365.60,270.79 L366.00,270.99 L366.40,270.86 L366.80,270.67 L367.20,270.83 L367.60,270.86 L368.00,271.04 L368.40,270.50 L368.80,270.86 L369.20,270.61 L369.60,270.63 L370.00,271.03 L370.40,270.82 L370.80,270.86 L371.20,271.02 L371.60,271.14 L372.00,270.76 L372.40,270.90 L372.80,270.81 L373.20,270.82 L373.60,270.96 L374.00,270.77 L374.40,270.83 L374.80,270.79 L375.20,271.16 L375.60,270.96 L376.00,271.11 L376.40,271.16 L376.80,270.61 L377.20,270.85 L377.60,271.16 L378.00,271.08 L378.40,270.51 L378.80,270.50 L379.20,270.76 L379.60,270.46 L380.00,270.59 L380.40,270.46 L380.80,270.94 L381.20,271.03 L381.60,271.12 L382.00,270.52 L382.40,270.97 L382.80,270.93 L383.20,270.52 L383.60,271.11 L384.00,271.17 L384.40,270.58 L384.80,271.16 L385.20,270.72 L385.60,270.79 L386.00,271.19 L386.40,271.07 L386.80,270.53 L387.20,270.75" stroke="#00ff00" stroke-width="1.45"/>
<path d="M265.60,269.61 L266.00,269.49 L266.40,269.64 L266.80,270.02 L267.20,270.44 L267.60,269.96 L268.00,270.11 L268.40,270.49 L268.80,270.79 L269.20,270.53 L269.60,270.41 L270.00,270.88 L270.40,270.14 L270.80,270.80 L271.20,270.35 L271.60,270.24 L272.00,270.23 L272.40,270.38 L272.80,270.80 L273.20,270.29 L273.60,270.62 L274.00,270.67 L274.40,270.46 L274.80,270.60 L275.20,270.22 L275.60,270.22 L276.00,270.34 L276.40,270.72 L276.80,270.52 L277.20,270.43 L277.60,270.65 L278.00,270.55 L278.40,270.43 L278.80,270.83 L279.20,270.75 L279.60,270.39 L280.00,270.66 L280.40,270.62 L280.80,270.90 L281.20,270.78 L281.60,270.43 L282.00,270.98 L282.40,270.30 L282.80,270.54 L283.20,270.81 L283.60,270.32 L284.00,270.59 L284.40,270.23 L284.80,270.74 L285.20,270.81 L285.60,270.66 L286.00,270.90 L286.40,270.45 L286.80,270.76 L287.20,270.67 L287.60,270.66 L288.00,270.56 L288.40,270.87 L288.80,270.95 L289.20,270.58 L289.60,270.73 L290.00,270.24 L290.40,270.76 L290.80,270.71 L291.20,270.99 L291.60,270.85 L292.00,270.42 L292.40,270.50 L292.80,270.73 L293.20,270.21 L293.60,270.56 L294.00,270.32 L294.40,270.28 L294.80,270.24 L295.20,270.80 L295.60,270.29 L296.00,270.39 L296.40,270.50 L296.80,270.89 L297.20,270.26 L297.60,270.55 L298.00,270.63 L298.40,270.90 L298.80,270.85 L299.20,270.89 L299.60,270.42 L300.00,270.53 L300.40,270.49 L300.80,270.91 L301.20,270.97 L301.60,270.33 L302.00,270.35 L302.40,270.40 L302.80,270.40 L303.20,270.60 L303.60,270.69 L304.00,270.43 L304.40,270.22 L304.80,270.56 L305.20,270.52 L305.60,270.68 L306.00,270.99 L306.40,270.78 L306.80,270.65 L307.20,270.73 L307.60,270.78 L308.00,270.28 L308.40,270.96 L308.80,270.87 L309.20,270.95 L309.60,270.89 L310.00,270.56 L310.40,270.57 L310.80,270.34 L311.20,270.77 L311.60,270.31 L312.00,270.32 L312.40,270.43 L312.80,270.40 L313.20,270.54 L313.60,270.31 L314.00,270.27 L314.40,270.40 L314.80,270.36 L315.20,270.57 L315.60,270.30 L316.00,270.99 L316.40,270.78 L316.80,270.41 L317.20,270.50 L317.60,270.57 L318.00,270.59 L318.40,270.40 L318.80,270.98 L319.20,271.10 L319.60,270.68 L320.00,270.70 L320.40,270.38 L320.80,270.40 L321.20,270.59 L321.60,270.53 L322.00,270.98 L322.40,270.45 L322.80,270.34 L323.20,271.09 L323.60,270.75 L324.00,270.45 L324.40,270.77 L324.80,270.36 L325.20,270.76 L325.60,271.12 L326.00,271.03 L326.40,270.90 L326.80,270.56 L327.20,270.64 L327.60,270.49 L328.00,270.97 L328.40,270.78 L328.80,270.98 L329.20,270.62 L329.60,270.54 L330.00,271.01 L330.40,271.15 L330.80,271.05 L331.20,271.01 L331.60,271.03 L332.00,270.96 L332.40,270.56 L332.80,270.79 L333.20,270.66 L333.60,270.40 L334.00,270.40 L334.40,270.61 L334.80,270.59 L335.20,270.94 L335.60,271.15 L336.00,270.75 L336.40,271.14 L336.80,271.18 L337.20,271.16 L337.60,270.69 L338.00,270.57 L338.40,270.58 L338.80,270.55 L339.20,270.56 L339.60,270.90 L340.00,271.12 L340.40,271.07 L340.80,270.79 L341.20,270.92 L341.60,271.04 L342.00,270.47 L342.40,270.93 L342.80,271.13 L343.20,271.03 L343.60,271.01 L344.00,270.79 L344.40,270.55 L344.80,271.04 L345.20,270.68 L345.60,271.05 L346.00,271.19 L346.40,270.73 L346.80,270.73 L347.20,271.17 L347.60,270.99 L348.00,270.55 L348.40,270.51 L348.80,270.53 L349.20,271.14 L349.60,271.06 L350.00,270.53 L350.40,271.08 L350.80,271.20 L351.20,270.94 L351.60,270.70 L352.00,270.85 L352.40,270.52 L352.80,270.43 L353.20,271.19 L353.60,270.94 L354.00,270.84 L354.40,271.16 L354.80,270.76 L355.20,271.11 L355.60,271.08 L356.00,270.58 L356.40,270.62 L356.80,270.65 L357.20,270.61 L357.60,270.89 L358.00,270.62 L358.40,270.75 L358.80,270.52 L359.20,271.14 L359.60,270.70 L360.00,270.78 L360.40,270.88 L360.80,271.14 L361.20,270.75 L361.60,271.15 L362.00,270.82 L362.40,270.84 L362.80,270.83 L363.20,270.43 L363.60,270.77 L364.00,270.56 L364.40,270.42 L364.80,271.05 L365.20,270.55 L365.60,270.79 L366.00,270.99 L366.40,270.86 L366.80,270.67 L367.20,270.83 L367.60,270.86 L368.00,271.04 L368.40,270.50 L368.80,270.86 L369.20,270.61 L369.60,270.63 L370.00,271.03 L370.40,270.82 L370.80,270.86 L371.20,271.02 L371.60,271.14 L372.00,270.76 L372.40,270.90 L372.80,270.81 L373.20,270.82 L373.60,270.96 L374.00,270.77 L374.40,270.83 L374.80,270.79 L375.20,271.16 L375.60,270.96 L376.00,271.11 L376.40,271.16 L376.80,270.61 L377.20,270.85 L377.60,271.16 L378.00,271.08 L378.40,270.51 L378.80,270.50 L379.20,270.76 L379.60,270.46 L380.00,270.59 L380.40,270.46 L380.80,270.94 L381.20,271.03 L381.60,271.12 L382.00,270.52 L382.40,270.97 L382.80,270.93 L383.20,270.52 L383.60,271.11 L384.00,271.17 L384.40,270.58 L384.80,271.16 L385.20,270.72 L385.60,270.79 L386.00,271.19 L386.40,271.07 L386.80,270.53 L387.20,270.75" stroke="#00ff00" stroke-width="1.9"/>
<path d="M76.60,319.80 L76.65,150.00 L77.00,92.00 L77.55,43.60 L77.95,90.00 L78.30,62.00 L78.70,91.50 L79.00,60.00 L79.40,86.00 L79.80,64.00 L80.25,80.00 L80.68,67.01 L81.12,63.92 L81.56,60.73 L81.87,66.18 L82.19,72.66 L82.56,64.78 L82.94,58.84 L83.38,58.26 L83.82,58.84 L84.15,63.74 L84.49,65.68 L84.82,71.41 L85.26,72.84 L85.70,73.92 L86.14,78.44 L86.58,83.34 L86.96,76.46 L87.34,72.66 L87.78,69.30 L88.22,67.01 L88.66,68.35 L89.10,68.89 L89.47,72.70 L89.85,76.43 L90.16,70.33 L90.48,67.01 L90.92,72.02 L91.36,73.92 L91.69,76.52 L92.03,78.78 L92.36,78.94 L92.80,78.94 L93.24,81.46 L93.68,76.31 L94.12,72.66 L94.50,76.64 L94.80,75.04 L95.10,78.49 L95.40,76.34 L95.70,80.14 L96.00,75.57 L96.30,82.05 L96.60,77.67 L96.90,81.83 L97.20,77.46 L97.50,83.51 L97.80,78.78 L98.10,83.61 L98.40,80.85 L98.70,85.60 L99.00,81.14 L99.30,85.45 L99.60,81.18 L99.90,87.38 L100.20,82.37 L100.50,87.37 L100.80,83.22 L101.10,88.29 L101.40,84.16 L101.70,89.92 L102.00,86.03 L102.30,91.04 L102.60,85.95 L102.90,91.49 L103.20,88.30 L103.50,92.89 L103.80,89.05 L104.10,93.11 L104.40,90.13 L104.70,93.95 L105.00,91.00 L105.30,95.34 L105.60,91.75 L105.90,97.04 L106.20,92.68 L106.50,97.49 L106.80,93.78 L107.10,98.12 L107.40,94.96 L107.70,98.86 L108.00,95.89 L108.30,100.65 L108.60,95.91 L108.90,100.68 L109.20,97.06 L109.50,103.05 L109.80,98.84 L110.10,104.04 L110.40,99.50 L110.70,104.73 L111.00,100.05 L111.30,105.78 L111.60,101.82 L111.90,107.46 L112.20,102.13 L112.50,108.00 L112.80,103.53 L113.10,109.77 L113.40,105.00 L113.70,110.36 L114.00,106.63 L114.30,110.87 L114.60,108.15 L114.90,112.04 L115.20,108.21 L115.50,113.51 L115.80,110.38 L116.10,114.36 L116.40,110.34 L116.70,116.89 L117.00,111.80 L117.30,117.02 L117.60,113.71 L117.90,118.20 L118.20,114.49 L118.50,119.12 L118.80,115.68 L119.10,120.48 L119.40,115.94 L119.70,122.89 L120.00,117.83 L120.30,122.77 L120.60,118.26 L120.90,124.05 L121.20,120.49 L121.50,124.67 L121.80,121.61 L122.10,126.66 L122.40,122.56 L122.70,127.35 L123.00,123.72 L123.30,128.17 L123.60,125.32 L123.90,129.49 L124.20,126.25 L124.50,130.58 L124.80,128.09 L125.10,132.23 L125.40,128.91 L125.70,133.91 L126.00,129.59 L126.30,135.40 L126.60,130.55 L126.90,136.51 L127.20,131.32 L127.50,137.09 L127.80,133.44 L128.10,139.28 L128.40,134.89 L128.70,139.97 L129.00,135.17 L129.30,139.92 L129.60,135.98 L129.90,142.56 L130.20,137.51 L130.50,143.46 L130.80,138.37 L131.10,143.62 L131.40,140.10 L131.70,145.49 L132.00,140.80 L132.30,147.29 L132.60,142.12 L132.90,148.23 L133.20,143.35 L133.50,149.79 L133.80,145.11 L134.10,150.43 L134.40,147.74 L134.70,151.75 L135.00,148.67 L135.30,153.22 L135.60,149.36 L135.90,155.55 L136.20,151.28 L136.50,157.24 L136.80,152.76 L137.10,158.58 L137.40,155.55 L137.70,160.73 L138.00,155.86 L138.30,161.84 L138.60,157.86 L138.90,163.75 L139.20,160.33 L139.50,165.53 L139.80,161.66 L140.10,166.03 L140.40,163.30 L140.70,168.85 L141.00,165.08 L141.30,170.54 L141.60,165.40 L141.90,171.79 L142.20,168.12 L142.50,173.44 L142.80,169.26 L143.10,175.62 L143.40,171.06 L143.70,177.07 L144.00,173.67 L144.30,177.87 L144.60,175.02 L144.90,180.57 L145.20,176.59 L145.50,181.91 L145.80,178.74 L146.10,182.65 L146.40,179.91 L146.70,185.34 L147.00,180.77 L147.30,186.94 L147.60,183.06 L147.90,188.24 L148.20,184.34 L148.50,189.73 L148.80,186.54 L149.10,192.09 L149.40,188.01 L149.70,193.87 L150.00,188.37 L150.30,193.85 L150.60,190.89 L150.90,196.94 L151.20,191.67 L151.50,197.97 L151.80,194.58 L152.10,199.22 L152.40,195.06 L152.70,200.90 L153.00,197.38 L153.30,202.45 L153.60,199.15 L153.90,205.55 L154.20,201.52 L154.50,207.00 L154.80,202.53 L155.10,208.79 L155.40,203.87 L155.70,209.32 L156.00,205.21 L156.30,211.44 L156.60,208.42 L156.90,212.28 L157.20,209.28 L157.50,214.75 L157.80,211.30 L158.10,215.89 L158.40,212.91 L158.70,217.88 L159.00,213.73 L159.30,219.02 L159.60,215.57 L159.90,222.18 L160.20,218.37 L160.50,224.03 L160.80,219.03 L161.10,225.68 L161.40,221.47 L161.70,226.46 L162.00,223.00 L162.30,229.26 L162.60,224.36 L162.90,229.86 L163.20,226.36 L163.50,231.42 L163.80,228.74 L164.10,232.84 L164.40,229.09 L164.70,234.89 L165.00,230.64 L165.30,236.55 L165.60,233.55 L165.90,238.75 L166.20,235.42 L166.50,240.25 L166.80,235.82 L167.10,242.90 L167.40,237.83 L167.70,244.21 L168.00,239.42 L168.30,246.53 L168.60,241.84 L168.90,247.93 L169.20,244.50 L169.50,249.74 L169.80,245.60 L170.10,251.58 L170.40,247.06 L170.70,252.57 L171.00,249.92 L171.30,255.52 L171.60,251.61 L171.90,256.54 L172.20,253.06 L172.50,258.07 L172.80,254.20 L173.10,261.10 L173.40,256.88 L173.70,262.37 L174.00,258.65 L174.30,264.05 L174.60,260.33 L174.90,265.21 L175.20,262.59 L175.50,267.13 L175.80,263.13 L176.10,269.49 L176.40,266.19 L176.70,272.06 L177.00,266.68 L177.30,273.11 L177.60,270.04 L177.90,274.51 L178.20,271.97 L178.50,276.63 L178.80,273.84 L179.10,278.32 L179.40,275.42 L179.70,280.79 L180.00,276.21 L180.30,283.00 L180.60,278.94 L180.90,284.31 L181.20,280.65 L181.50,286.15 L181.80,282.88 L182.10,287.51 L182.40,284.91 L182.70,291.02 L183.00,287.09 L183.30,292.12 L183.60,288.12 L183.90,294.67 L184.20,290.76 L184.50,295.54 L184.80,292.61 L185.10,297.67 L185.40,294.17 L185.70,300.54 L186.00,295.35 L186.30,302.29 L186.60,298.69 L186.90,302.69 L187.20,299.35 L187.50,306.07 L187.80,301.62 L188.10,307.38 L188.40,304.29 L188.70,308.86 L189.00,304.49 L189.30,311.44 L189.60,306.42 L189.90,313.49 L190.20,309.26 L190.50,313.73 L190.80,311.17 L191.10,316.18 L191.40,311.95 L191.70,318.61 L192.00,313.55 L192.30,319.75 L192.60,315.13 L192.90,321.06 L193.20,317.12 L193.50,321.94 L193.80,318.32 L194.10,323.87 L194.40,319.66 L194.70,326.17 L195.00,322.32 L195.30,326.74 L195.60,324.14 L195.90,328.91 L196.20,325.23 L196.50,329.51 L196.80,327.82 L197.10,331.38 L197.40,328.94 L197.70,332.53 L198.00,331.00 L198.30,333.97 L198.60,332.76 L198.90,334.93 L199.20,333.99 L199.50,336.42 L199.80,335.41 L200.10,337.36 L200.40,336.92 L200.70,338.10 L201.00,338.38 L201.30,338.84 L201.60,339.25 L201.90,339.61 L202.20,339.93 L202.50,340.21 L202.80,340.46 L203.10,340.66 L203.40,340.82 L203.70,340.95 L204.00,341.05 L204.30,341.14 L204.60,341.21 L204.90,341.28 L205.20,341.34 L205.50,341.41 L205.80,341.47 L206.10,341.53 L206.40,341.59 L206.70,341.64 L207.00,341.70 L207.30,341.76 L207.60,341.81 L207.90,341.86 L208.20,341.91 L208.50,341.96 L208.80,342.01 L209.10,342.06 L209.40,342.11 L209.70,342.16 L210.00,342.21 L210.30,342.25 L210.60,342.30 L210.90,342.35 L211.20,342.39 L211.50,342.44 L211.80,342.49 L212.10,342.53 L212.40,342.58 L212.70,342.63 L213.00,342.67 L213.30,342.72 L213.60,342.77 L213.90,342.82 L214.20,342.87 L214.50,342.92 L214.80,342.97 L215.10,343.02 L215.40,343.07 L215.70,343.12 L216.00,343.17 L216.30,343.22 L216.60,343.28 L216.90,343.33 L217.20,343.38 L217.50,343.43 L217.80,343.48 L218.10,343.54 L218.40,343.59 L218.70,343.64 L219.00,343.69 L219.30,343.74 L219.60,343.80 L219.90,343.85 L220.20,343.90 L220.50,343.95 L220.80,344.00 L221.10,344.06 L221.40,344.11 L221.70,344.16 L222.00,344.21 L222.30,344.26 L222.60,344.32 L222.90,344.37 L223.20,344.42 L223.50,344.47 L223.80,344.53 L224.10,344.58 L224.40,344.63 L224.70,344.68 L225.00,344.73 L225.30,344.79 L225.60,344.84 L225.90,344.89 L226.20,344.94 L226.50,345.00 L226.80,345.05 L227.10,345.10 L227.40,345.15 L227.70,345.20 L228.00,345.26 L228.30,345.31 L228.60,345.36 L228.90,345.41 L229.20,345.47 L229.50,345.52 L229.80,345.57 L230.10,345.62 L230.40,345.67 L230.70,345.73 L231.00,345.78 L231.30,345.83 L231.60,345.88" stroke="#0000ff" stroke-width="1.3"/>
</g>
<g font-family="'Liberation Serif', serif" fill="#111" style="opacity:0.999">
<text x="76.10" y="367.1" font-size="15.0" text-anchor="middle">0</text>
<text x="136.99" y="367.1" font-size="15.0" text-anchor="middle">200</text>
<text x="197.88" y="367.1" font-size="15.0" text-anchor="middle">400</text>
<text x="258.77" y="367.1" font-size="15.0" text-anchor="middle">600</text>
<text x="319.66" y="367.1" font-size="15.0" text-anchor="middle">800</text>
<text x="379.95" y="367.1" font-size="15.0" text-anchor="middle">1,000</text>
<text x="62.2" y="18.05" font-size="15.0" text-anchor="end">10</text>
<text x="63.6" y="12.15" font-size="10.4">1</text>
<text x="54.2" y="74.61" font-size="15.0" text-anchor="end">10</text>
<line x1="55.5" y1="66.16" x2="61.7" y2="66.16" stroke="#111" stroke-width="0.75"/>
<text x="69.0" y="68.71" font-size="10.4" text-anchor="end">2</text>
<text x="54.2" y="131.17" font-size="15.0" text-anchor="end">10</text>
<line x1="55.5" y1="122.72" x2="61.7" y2="122.72" stroke="#111" stroke-width="0.75"/>
<text x="69.0" y="125.27" font-size="10.4" text-anchor="end">5</text>
<text x="54.2" y="187.73" font-size="15.0" text-anchor="end">10</text>
<line x1="55.5" y1="179.28" x2="61.7" y2="179.28" stroke="#111" stroke-width="0.75"/>
<text x="69.0" y="181.83" font-size="10.4" text-anchor="end">8</text>
<text x="48.6" y="244.29" font-size="15.0" text-anchor="end">10</text>
<line x1="50.2" y1="235.84" x2="56.0" y2="235.84" stroke="#111" stroke-width="0.75"/>
<text x="63.0" y="238.39" font-size="10.4" text-anchor="end">1</text>
<text x="68.6" y="238.39" font-size="10.4" text-anchor="end">1</text>
<text x="48.6" y="300.85" font-size="15.0" text-anchor="end">10</text>
<line x1="50.2" y1="292.40" x2="56.0" y2="292.40" stroke="#111" stroke-width="0.75"/>
<text x="63.0" y="294.95" font-size="10.4" text-anchor="end">1</text>
<text x="68.6" y="294.95" font-size="10.4" text-anchor="end">4</text>
<text x="48.6" y="357.40" font-size="15.0" text-anchor="end">10</text>
<line x1="50.2" y1="348.95" x2="56.0" y2="348.95" stroke="#111" stroke-width="0.75"/>
<text x="63.0" y="351.50" font-size="10.4" text-anchor="end">1</text>
<text x="68.6" y="351.50" font-size="10.4" text-anchor="end">7</text>
<text x="231.0" y="392.3" font-size="17" font-style="italic" text-anchor="middle">l</text>
<g transform="translate(17.1,0) rotate(-90)" font-style="italic">
<path d="M-201.3,-11.1 L-205.6,-3.45 L-201.3,4.2" fill="none" stroke="#111" stroke-width="0.75"/>
<text transform="translate(-200.4,3.1) scale(1.12,1)" font-size="10.5">s</text>
<text transform="translate(-193.3,0) scale(1.12,1)" font-size="14.5">a</text>
<text transform="translate(-184.2,3.1) scale(1.0,1)" font-size="12.2">l</text>
<text transform="translate(-179.9,3.1) scale(1.5,1)" font-size="10.5">m</text>
<path d="M-167.4,-11.1 L-163.1,-3.45 L-167.4,4.2" fill="none" stroke="#111" stroke-width="0.75"/>
<text transform="translate(-162.4,2.6) scale(1.5,1)" font-size="10.5">m</text>
</g>
</g>
</svg>
</body></html>
